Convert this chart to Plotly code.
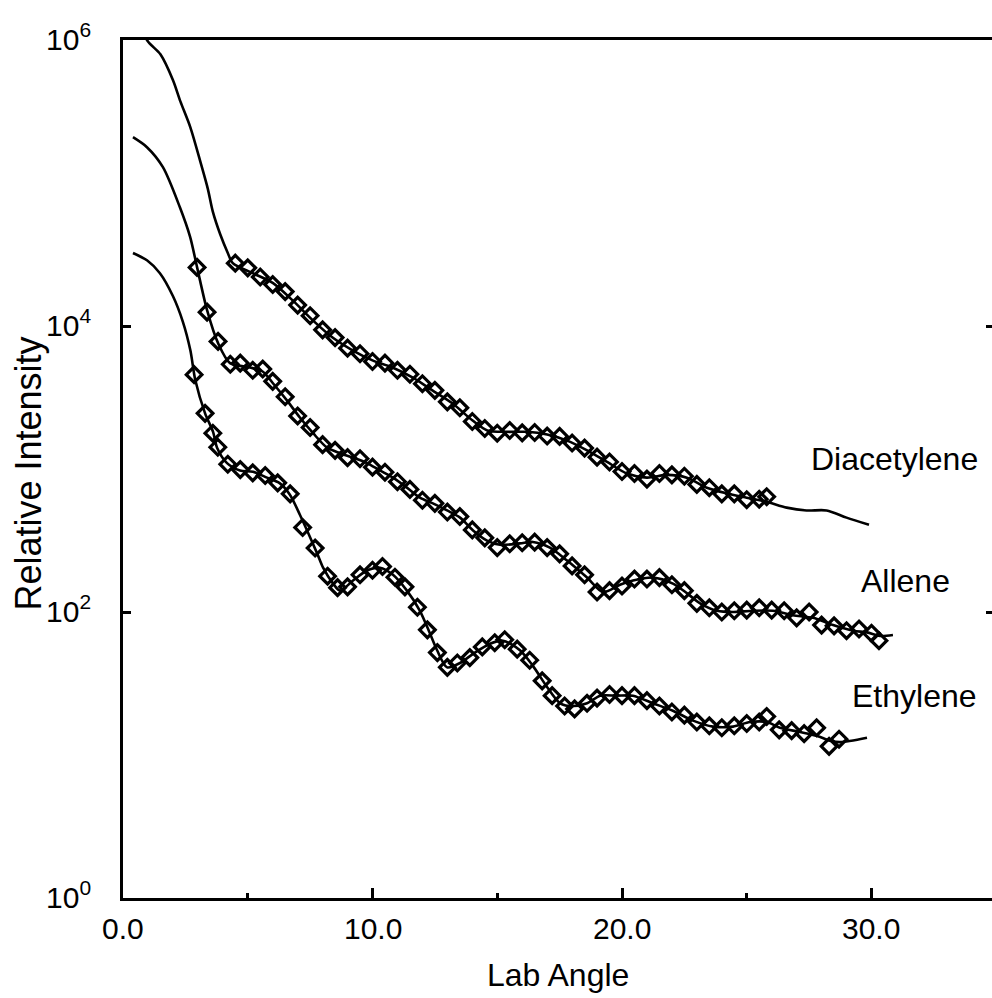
import math
import plotly.graph_objects as go

# ---------------- data ----------------
# Fitted curves (solid lines)
dia_fit_x = [0.5, 0.96, 1.5, 2.0, 2.3, 2.7, 3.1, 3.4, 3.6, 3.9, 4.2, 4.4, 5.2, 6.0, 6.8, 7.6,
             8.4, 9.2, 10.0, 10.8, 11.6, 12.4, 13.2, 14.0, 14.6, 15.4, 16.2, 17.0, 17.8,
             18.6, 19.4, 20.2, 21.0, 21.8, 22.6, 23.4, 24.2, 25.0, 25.8, 26.6, 27.4, 28.2,
             29.0, 29.9]
dia_fit_y = [1780000, 1000000, 794000, 525000, 372000, 245000, 141000, 91000, 63000, 43600,
             32400, 27500, 23400, 20000, 15100, 11000, 8300, 6760, 5750, 5130, 4370, 3550,
             2880, 2190, 1860, 1820, 1820, 1740, 1580, 1350, 1120, 930, 870, 910, 870, 740,
             675, 630, 590, 537, 513, 513, 457, 407]

all_fit_x = [0.4, 0.96, 1.6, 2.28, 2.69, 2.97, 3.37, 3.81, 4.29, 5.09, 5.61, 6.01, 6.57, 7.09,
             7.62, 8.18, 8.70, 9.22, 9.78, 10.30, 10.82, 11.38, 11.90, 12.42, 12.99, 13.51,
             14.03, 14.59, 15.11, 15.91, 16.43, 17.11, 17.80, 18.60, 19.24, 19.92, 20.44,
             21.24, 22.04, 22.61, 23.13, 23.81, 24.45, 25.25, 26.05, 26.85, 27.66, 28.46,
             29.26, 29.82, 30.34, 30.86]
all_fit_y = [209000, 178000, 129000, 67600, 42000, 25700, 12900, 7590, 5500, 5130, 4790, 3980,
             3020, 2290, 1780, 1410, 1290, 1200, 1100, 977, 871, 741, 631, 575, 513, 457,
             372, 316, 295, 302, 309, 282, 229, 174, 138, 155, 166, 174, 158, 135, 115, 102,
             100, 102, 102, 95, 91, 81, 74, 72, 68, 69]

eth_fit_x = [0.40, 0.96, 1.48, 2.00, 2.40, 2.70, 2.90, 3.29, 3.61, 3.77, 4.17, 4.69, 5.21,
             5.77, 6.29, 6.69, 7.09, 7.78, 8.02, 8.42, 8.70, 9.22, 9.78, 10.30, 10.82, 11.38,
             11.90, 12.30, 12.59, 12.99, 13.51, 14.03, 14.71, 15.23, 15.91, 16.43, 16.99,
             17.52, 18.04, 18.60, 19.12, 19.80, 20.44, 21.24, 22.04, 22.85, 23.65, 24.45,
             25.13, 25.81, 26.33, 27.13, 27.82, 28.34, 28.74, 29.82]
eth_fit_y = [32400, 28800, 23400, 16200, 10700, 6760, 4170, 2450, 1820, 1410, 1100, 977, 955,
             871, 794, 661, 479, 257, 204, 158, 141, 166, 195, 204, 182, 141, 102, 71, 54,
             41, 44, 51, 60, 63, 54, 42, 30, 23, 22, 23, 26, 26, 26, 23, 20.4, 17.4, 15.8,
             15.8, 17.0, 17.0, 15.5, 14.5, 13.6, 12.6, 12.3, 13.2]

# Measured points (open diamonds)
dia_pts_x = [4.5, 5.0, 5.5, 6.0, 6.5, 7.0, 7.5, 8.0, 8.5, 9.0, 9.5, 10.0, 10.5, 11.0, 11.5,
             12.0, 12.5, 13.0, 13.5, 14.0, 14.5, 15.0, 15.5, 16.0, 16.5, 17.0, 17.5, 18.0,
             18.5, 19.0, 19.5, 20.0, 20.5, 21.0, 21.5, 22.0, 22.5, 23.0, 23.5, 24.0, 24.5,
             25.0, 25.5, 25.8]
dia_pts_y = [27500, 25500, 22000, 19500, 17400, 14000, 11800, 9400, 8300, 7000, 6400, 5650,
             5500, 4900, 4600, 3950, 3550, 2950, 2680, 2150, 1920, 1780, 1860, 1790, 1800,
             1700, 1690, 1520, 1400, 1210, 1120, 960, 930, 850, 930, 910, 890, 780, 740, 670,
             670, 610, 615, 640]

all_pts_x = [2.97, 3.37, 3.81, 4.3, 4.7, 5.2, 5.6, 6.0, 6.5, 7.0, 7.5, 8.0, 8.5, 9.0, 9.5,
             10.0, 10.5, 11.0, 11.5, 12.0, 12.5, 13.0, 13.5, 14.0, 14.5, 15.0, 15.5, 16.0,
             16.5, 17.0, 17.5, 18.0, 18.5, 19.0, 19.5, 20.0, 20.5, 21.0, 21.5, 22.0, 22.5,
             23.0, 23.5, 24.0, 24.5, 25.0, 25.5, 26.0, 26.5, 27.0, 27.5, 28.0, 28.5, 29.0,
             29.5, 30.0, 30.3]
all_pts_y = [25700, 12500, 7800, 5400, 5500, 4900, 5000, 4100, 3200, 2350, 1950, 1480, 1350,
             1200, 1180, 1030, 950, 815, 720, 605, 575, 500, 465, 375, 330, 282, 300, 305,
             308, 282, 255, 210, 182, 138, 141, 152, 170, 170, 174, 155, 141, 115, 107, 100,
             102, 103, 107, 103, 102, 91, 100, 81, 80, 74, 76, 71, 63]

eth_pts_x = [2.85, 3.29, 3.6, 3.8, 4.2, 4.7, 5.2, 5.7, 6.2, 6.7, 7.2, 7.7, 8.2, 8.6, 9.0, 9.5,
             10.0, 10.4, 10.9, 11.3, 11.8, 12.2, 12.6, 13.0, 13.4, 13.9, 14.4, 14.9, 15.3,
             15.8, 16.3, 16.8, 17.2, 17.7, 18.1, 18.6, 19.0, 19.5, 20.0, 20.5, 21.0, 21.5,
             22.0, 22.5, 23.0, 23.5, 24.0, 24.5, 25.0, 25.5, 25.8, 26.3, 26.8, 27.3, 27.8,
             28.3, 28.7]
eth_pts_y = [4570, 2450, 1780, 1420, 1080, 990, 940, 900, 800, 670, 390, 280, 178, 148, 150,
             182, 196, 208, 175, 150, 108, 75, 52, 41, 44, 48, 57, 61, 64, 55, 46, 33, 26, 22,
             21, 23, 25, 26.5, 26, 26, 24, 22, 20, 19, 17, 16, 15.5, 16, 16.6, 17, 18.6, 15,
             14.8, 14.1, 15.5, 11.5, 12.9]

labels = ["Diacetylene", "Allene", "Ethylene"]
label_x = [30.94, 31.38, 31.74]
label_logy = [3.07, 2.22, 1.41]

x_tick_vals = [0, 10, 20, 30]
x_tick_text = ["0.0", "10.0", "20.0", "30.0"]
x_minor_vals = [5, 15, 25]
y_tick_vals = [1, 100, 10000, 1000000]
y_tick_text = ["10<sup>0</sup>", "10<sup>2</sup>", "10<sup>4</sup>", "10<sup>6</sup>"]

FONT = "Liberation Sans, Arial, Helvetica, sans-serif"
BLACK = "#000000"

fig = go.Figure()

for fx, fy in [(dia_fit_x, dia_fit_y), (all_fit_x, all_fit_y), (eth_fit_x, eth_fit_y)]:
    fig.add_trace(go.Scatter(x=fx, y=fy, mode="lines",
                             line=dict(color=BLACK, width=2.6, shape="spline", smoothing=0.8),
                             showlegend=False, hoverinfo="skip"))

for px, py in [(dia_pts_x, dia_pts_y), (all_pts_x, all_pts_y), (eth_pts_x, eth_pts_y)]:
    fig.add_trace(go.Scatter(x=px, y=py, mode="markers",
                             marker=dict(symbol="diamond-open", size=12, color=BLACK,
                                         line=dict(color=BLACK, width=3.2)),
                             showlegend=False, hoverinfo="skip"))

# empty trace to carry the right-hand tick axis
fig.add_trace(go.Scatter(x=[], y=[], yaxis="y2", showlegend=False))

# curve labels
for txt, lx, ly in zip(labels, label_x, label_logy):
    fig.add_annotation(x=lx, y=ly, xref="x", yref="y", text=txt, showarrow=False,
                       font=dict(family=FONT, size=32, color=BLACK),
                       xanchor="center", yanchor="middle")

# tick labels (as text annotations, placed at the axis tick values)
for v, t in zip(x_tick_vals, x_tick_text):
    fig.add_annotation(x=v, y=-0.035, xref="x", yref="paper", text=t, showarrow=False,
                       xanchor="center", yanchor="middle",
                       font=dict(family=FONT, size=30, color=BLACK))
for v, t in zip(y_tick_vals, y_tick_text):
    fig.add_annotation(x=-0.035, y=math.log10(v), xref="paper", yref="y", text=t,
                       showarrow=False, xanchor="right", yanchor="middle", yshift=3,
                       font=dict(family=FONT, size=30, color=BLACK))

# axis titles
fig.add_annotation(x=-0.109, y=0.495, xref="paper", yref="paper", text="Relative Intensity",
                   textangle=-90, showarrow=False, xanchor="center", yanchor="middle",
                   font=dict(family=FONT, size=36, color=BLACK))
fig.add_annotation(x=0.5, y=-0.09, xref="paper", yref="paper", text="Lab Angle",
                   showarrow=False, xanchor="center", yanchor="middle",
                   font=dict(family=FONT, size=32, color=BLACK))

fig.update_layout(
    width=992, height=998,
    margin=dict(l=123, r=0, t=40, b=100),
    paper_bgcolor="white", plot_bgcolor="white",
    font=dict(family=FONT, color=BLACK),
    xaxis=dict(range=[0, 34.83], showgrid=False, zeroline=False,
               showline=True, linecolor=BLACK, linewidth=3, mirror=True,
               ticks="inside", ticklen=10, tickwidth=2.5, tickcolor=BLACK,
               tickvals=x_tick_vals, showticklabels=False,
               minor=dict(tickvals=x_minor_vals, ticks="inside", ticklen=5,
                          tickwidth=2.5, tickcolor=BLACK, showgrid=False)),
    yaxis=dict(type="log", range=[0, 6], showgrid=False, zeroline=False,
               showline=True, linecolor=BLACK, linewidth=3, mirror=False,
               ticks="inside", ticklen=8, tickwidth=2.5, tickcolor=BLACK,
               tickvals=y_tick_vals, showticklabels=False),
    yaxis2=dict(type="log", range=[0, 6], overlaying="y", side="right", anchor="x",
                showgrid=False, zeroline=False, showline=False,
                ticks="inside", ticklen=6, tickwidth=2.5, tickcolor=BLACK,
                tickvals=[100, 10000], showticklabels=False),
)

fig.write_html("out.html")
